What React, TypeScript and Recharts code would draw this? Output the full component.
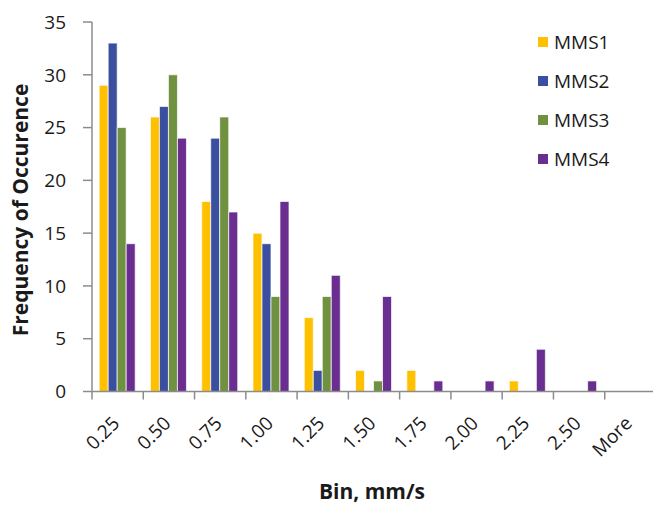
import { Bar, BarChart, XAxis, YAxis } from "recharts";

// Histogram bins (upper edge, mm/s)
const bins = ["0.25", "0.50", "0.75", "1.00", "1.25", "1.50", "1.75", "2.00", "2.25", "2.50", "More"];

const mms1 = [29, 26, 18, 15, 7, 2, 2, 0, 1, 0, 0];
const mms2 = [33, 27, 24, 14, 2, 0, 0, 0, 0, 0, 0];
const mms3 = [25, 30, 26, 9, 9, 1, 0, 0, 0, 0, 0];
const mms4 = [14, 24, 17, 18, 11, 9, 1, 1, 4, 1, 0];

const yTicks = [0, 5, 10, 15, 20, 25, 30, 35];

const seriesNames = ["MMS1", "MMS2", "MMS3", "MMS4"];
const seriesColors = ["#FFC000", "#3B4FA0", "#6F9140", "#6A2D90"];

const data = bins.map((bin, i) => ({
    bin,
    MMS1: mms1[i],
    MMS2: mms2[i],
    MMS3: mms3[i],
    MMS4: mms4[i],
}));

const FONT = "'Open Sans', sans-serif";
const AXIS_GREY = "#8c8c8c";
const TEXT = "#1a1a1a";

const CHART_W = 660;
const CHART_H = 506;
const Y_AXIS_W = 92;
const MARGIN = { top: 22, right: 4, left: 0, bottom: 0 };
const PLOT_W = CHART_W - Y_AXIS_W - MARGIN.left - MARGIN.right;

// tick marks sit on the bin edges, labels are slanted under the bin centre
function BinTick(props: any) {
    const { x, y, payload } = props;
    const half = PLOT_W / bins.length / 2;
    const left = x - half;
    const tx = x + 3;
    const ty = y + 33;
    return (
        <g>
            <line x1={left} y1={y} x2={left} y2={y + 8} stroke={AXIS_GREY} strokeWidth={1.5} />
            <text
                x={tx}
                y={ty}
                textAnchor="end"
                transform={`rotate(-45, ${tx}, ${ty})`}
                fontFamily={FONT}
                fontSize={19}
                fill={TEXT}
            >
                {payload.value}
            </text>
        </g>
    );
}

function LegendBox() {
    return (
        <div
            style={{
                position: "absolute",
                left: 538,
                top: 23,
                fontFamily: FONT,
                fontSize: 19,
                color: TEXT,
            }}
        >
            {seriesNames.map((name, i) => (
                <div key={name} style={{ height: 38.8, display: "flex", alignItems: "center" }}>
                    <span
                        style={{
                            width: 10,
                            height: 10,
                            background: seriesColors[i],
                            marginRight: 6,
                            display: "inline-block",
                        }}
                    />
                    <span>{name}</span>
                </div>
            ))}
        </div>
    );
}

const titleStyle = {
    position: "absolute" as const,
    fontFamily: FONT,
    fontSize: 21,
    fontWeight: 700,
    color: TEXT,
    whiteSpace: "nowrap" as const,
    lineHeight: 1,
};

export default function App() {
    return (
        <div
            style={{
                position: "fixed",
                left: 0,
                top: 0,
                width: 653,
                height: 506,
                overflow: "hidden",
                background: "#ffffff",
            }}
        >
            <BarChart
                width={CHART_W}
                height={CHART_H}
                data={data}
                margin={MARGIN}
                barCategoryGap="14%"
                barGap={0}
            >
                <XAxis
                    dataKey="bin"
                    height={CHART_H - MARGIN.top - 369.5}
                    tickLine={false}
                    tickSize={0}
                    tickMargin={0}
                    axisLine={{ stroke: AXIS_GREY, strokeWidth: 1.5 }}
                    tick={BinTick}
                    interval={0}
                />
                <YAxis
                    width={Y_AXIS_W}
                    domain={[0, 35]}
                    ticks={yTicks}
                    interval={0}
                    tickSize={9}
                    tickMargin={17}
                    axisLine={{ stroke: AXIS_GREY, strokeWidth: 1.5 }}
                    tickLine={{ stroke: AXIS_GREY, strokeWidth: 1.5 }}
                    tick={{ fontFamily: FONT, fontSize: 19, fill: TEXT }}
                />
                {seriesNames.map((name, i) => (
                    <Bar
                        key={name}
                        dataKey={name}
                        fill={seriesColors[i]}
                        stroke="rgba(255,255,255,0.7)"
                        strokeWidth={1}
                        isAnimationActive={false}
                    />
                ))}
            </BarChart>
            {/* axis titles */}
            <div
                style={{
                    ...titleStyle,
                    left: 20,
                    top: 210,
                    transform: "translate(-50%, -50%) rotate(-90deg)",
                }}
            >
                Frequency of Occurence
            </div>
            <div style={{ ...titleStyle, left: 372, top: 491, transform: "translate(-50%, -50%)" }}>
                Bin, mm/s
            </div>
            <LegendBox />
        </div>
    );
}
